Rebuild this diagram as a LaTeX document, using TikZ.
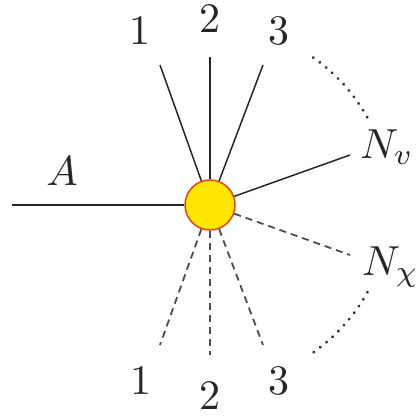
\documentclass[tikz,border=0pt]{standalone}
\begin{document}
\begin{tikzpicture}[x=1pt,y=-1pt,
  lbl/.style={inner sep=0pt,outer sep=0pt,text=black!85,scale=4.2},
  solidline/.style={line width=1.5pt,draw=black!85},
  dashline/.style={line width=1.8pt,draw=black!70,dash pattern=on 7pt off 5pt},
  dotline/.style={line width=3.2pt,draw=black!80,line cap=round,dash pattern=on 0.1pt off 8pt},
  vertex/.style={circle,minimum size=50pt,inner sep=0pt,fill={rgb,255:red,255;green,230;blue,0},draw={rgb,255:red,225;green,70;blue,25},line width=1.5pt}]
\useasboundingbox (0,0) rectangle (416,417);
% free ends
\coordinate (a) at (12,205);
\coordinate (t1) at (160,65);
\coordinate (t2) at (210,57);
\coordinate (t3) at (263,65);
\coordinate (b1) at (160,345);
\coordinate (b2) at (210,355);
\coordinate (b3) at (263,345);
\coordinate (nv) at (350,155);
\coordinate (nx) at (350,255);
\node[vertex] (c) at (210,205) {};
% connectors
\draw[solidline] (c) -- (a);
\draw[solidline] (c) -- (t1);
\draw[solidline] (c) -- (t2);
\draw[solidline] (c) -- (t3);
\draw[solidline] (c) -- (nv);
\draw[dashline] (c) -- (b1);
\draw[dashline] (c) -- (b2);
\draw[dashline] (c) -- (b3);
\draw[dashline] (c) -- (nx);
% dotted arcs
\draw[dotline] (c.center) ++(-55:180) arc[start angle=-55,end angle=-29,radius=180];
\draw[dotline] (c.center) ++(29:180) arc[start angle=29,end angle=55,radius=180];
% labels
\node[lbl,anchor=base] (la) at (62,185) {$A$};
\node[lbl,anchor=base] (lt1) at (140,45) {1};
\node[lbl,anchor=base] (lt2) at (210,33) {2};
\node[lbl,anchor=base] (lt3) at (279,45) {3};
\node[lbl,anchor=base] (lb1) at (141,394) {1};
\node[lbl,anchor=base] (lb2) at (210,409) {2};
\node[lbl,anchor=base] (lb3) at (279,394) {3};
\node[lbl,anchor=base west] (lnv) at (360,158) {$N_v$};
\node[lbl,anchor=base west] (lnx) at (362,275) {$N_\chi$};
\end{tikzpicture}
\end{document}
